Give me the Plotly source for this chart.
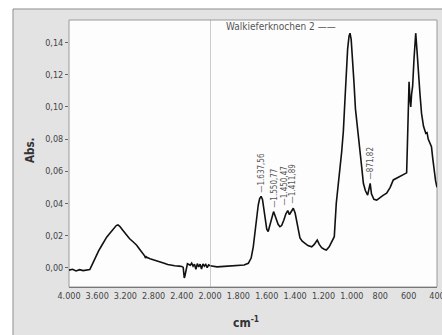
import plotly.graph_objects as go

# ---- data ----
wn_high = [4000, 3950, 3900, 3850, 3800, 3750, 3705, 3660, 3620, 3580, 3540, 3500, 3466, 3420,
           3372, 3330, 3305, 3280, 3240, 3182, 3140, 3088, 3040, 2993, 2950, 2925, 2915, 2905,
           2898, 2850, 2800, 2756, 2700, 2650, 2600, 2568, 2500, 2440, 2400, 2380, 2365, 2355,
           2340, 2320, 2300, 2280, 2260, 2240, 2220, 2200, 2180, 2160, 2140, 2120, 2100, 2080,
           2060, 2040, 2020, 2000]
abs_high = [-0.0015, -0.0010, -0.0020, -0.0012, -0.0018, -0.0014, -0.0012, 0.0030, 0.0070, 0.0105,
            0.0135, 0.0165, 0.0190, 0.0215, 0.0243, 0.0262, 0.0266, 0.0258, 0.0235, 0.0203,
            0.0180, 0.0160, 0.0140, 0.0112, 0.0090, 0.0072, 0.0060, 0.0068, 0.0065, 0.0056,
            0.0050, 0.0044, 0.0035, 0.0028, 0.0020, 0.0017, 0.0012, 0.0010, 0.0008, 0.0002,
            -0.0064, -0.0050, -0.0005, 0.0025, 0.0020, 0.0015, 0.0028, 0.0010, 0.0022, -0.0010,
            0.0025, 0.0005, 0.0022, -0.0008, 0.0024, 0.0010, 0.0020, 0.0000, 0.0018, 0.0012]

wn_low = [2000, 1950, 1900, 1850, 1800, 1760, 1730, 1710, 1695, 1680, 1671, 1660, 1650, 1640,
          1630, 1615, 1600, 1590, 1575, 1560, 1552, 1540, 1520, 1507, 1495, 1480, 1465, 1452,
          1440, 1430, 1413, 1400, 1385, 1366, 1350, 1331, 1310, 1283, 1265, 1250, 1244, 1230,
          1213, 1195, 1180, 1160, 1140, 1124, 1110, 1100, 1084, 1072, 1060, 1049, 1040, 1030,
          1020, 1013, 1005, 995, 985, 975, 965, 962, 955, 943, 930, 919, 905, 889, 880, 871,
          862, 845, 825, 800, 780, 755, 730, 708, 685, 661, 640, 625, 614, 609, 603, 597, 591,
          585, 579, 572, 562, 550, 541, 533, 520, 509, 495, 479, 470, 462, 450, 439, 430, 420,
          410, 400]
abs_low = [0.0012, 0.0005, 0.0008, 0.0011, 0.0014, 0.0017, 0.0027, 0.0060, 0.0130, 0.0240,
           0.0317, 0.0390, 0.0430, 0.0444, 0.0425, 0.0340, 0.0240, 0.0225, 0.0270, 0.0330,
           0.0349, 0.0320, 0.0270, 0.0255, 0.0262, 0.0295, 0.0335, 0.0355, 0.0330, 0.0345,
           0.0370, 0.0340, 0.0270, 0.0185, 0.0165, 0.0152, 0.0138, 0.0130, 0.0145, 0.0165,
           0.0172, 0.0145, 0.0125, 0.0115, 0.0110, 0.0130, 0.0165, 0.0193, 0.0400, 0.0500,
           0.0620, 0.0720, 0.0850, 0.1040, 0.1210, 0.1360, 0.1440, 0.1459, 0.1420, 0.1300,
           0.1150, 0.0990, 0.0910, 0.0899, 0.0860, 0.0735, 0.0620, 0.0525, 0.0480, 0.0452,
           0.0480, 0.0525, 0.0460, 0.0425, 0.0421, 0.0440, 0.0450, 0.0463, 0.0500, 0.0546,
           0.0556, 0.0566, 0.0575, 0.0585, 0.0590, 0.0753, 0.1000, 0.1157, 0.1050, 0.1000,
           0.1080, 0.1126, 0.1300, 0.1459, 0.1350, 0.1230, 0.1080, 0.0960, 0.0880, 0.0836,
           0.0840, 0.0800, 0.0780, 0.0753, 0.0680, 0.0600, 0.0540, 0.0500]

ticks_high = [4000, 3600, 3200, 2800, 2400, 2000]
ticks_low = [1800, 1600, 1400, 1200, 1000, 800, 600, 400]
y_ticks = [0.00, 0.02, 0.04, 0.06, 0.08, 0.10, 0.12, 0.14]

peak_labels = ["1.637,56", "1.550,77", "1.450,47", "1.411,89", "871,82"]
peak_wn = [1637.56, 1550.77, 1478, 1422, 871.82]
peak_abs = [0.0444, 0.0349, 0.0360, 0.0375, 0.0525]

series_name = "Walkieferknochen 2"

FONT = "Liberation Sans Narrow, DejaVu Sans Condensed, Arial Narrow, sans-serif"
split = 141 / 368

fig = go.Figure()
line = dict(color="#111111", width=1.6)
fig.add_trace(go.Scatter(x=wn_high, y=abs_high, mode="lines", line=line,
                         xaxis="x", yaxis="y", showlegend=False, name=series_name))
fig.add_trace(go.Scatter(x=wn_low, y=abs_low, mode="lines", line=line,
                         xaxis="x2", yaxis="y", showlegend=False, name=series_name))

tickfont = dict(family=FONT, size=9, color="#444444")
fig.update_layout(
    width=442, height=335,
    margin=dict(l=69, r=5, t=20, b=48, autoexpand=False),
    paper_bgcolor="white", plot_bgcolor="white",
    separators=",.",
    font=dict(family=FONT),
    xaxis=dict(domain=[0, split], range=[4000, 2000], tickvals=ticks_high,
               tickformat=",.0f", ticks="", showgrid=False, zeroline=False,
               showline=True, linecolor="#777777", linewidth=1, tickfont=tickfont,
               anchor="y", automargin=False, ticklabeloverflow="allow"),
    xaxis2=dict(domain=[split, 1], range=[2000, 400], tickvals=ticks_low,
                tickformat=",.0f", ticks="", showgrid=False, zeroline=False,
                showline=True, linecolor="#777777", linewidth=1, tickfont=tickfont,
                anchor="y", automargin=False, ticklabeloverflow="allow"),
    yaxis=dict(range=[-0.012, 0.1541], tickvals=y_ticks, tickformat=".2f",
               ticks="outside", ticklen=3, tickcolor="#666666", showgrid=False,
               zeroline=False, showline=False, tickfont=tickfont, automargin=False),
)

# panel and plot frame
fig.add_shape(type="rect", xref="paper", yref="paper", x0=-0.1522, x1=1.2, y0=-0.3, y1=1.0412,
              fillcolor="#e3e3e3", line=dict(color="#8f8f8f", width=1), layer="below")
fig.add_shape(type="rect", xref="paper", yref="paper", x0=0, x1=1, y0=0, y1=1,
              fillcolor="#fdfdfd", line=dict(color="#9a9a9a", width=1), layer="below")
fig.add_shape(type="line", xref="x2", yref="paper", x0=2000, x1=2000, y0=0, y1=1,
              line=dict(color="#9a9a9a", width=1))

# peak labels
for txt, xw, ya in zip(peak_labels, peak_wn, peak_abs):
    fig.add_annotation(x=xw, y=ya, xref="x2", yref="y", text="—" + txt, textangle=-90,
                       showarrow=False, xanchor="center", yanchor="bottom", yshift=2,
                       font=dict(family=FONT, size=8, color="#555555"))

# legend-like label
fig.add_annotation(x=0.731, y=0.9775, xref="paper", yref="paper", text=series_name + " ——",
                   showarrow=False, xanchor="right", yanchor="middle",
                   font=dict(family=FONT, size=10, color="#555555"))

# axis titles
fig.add_annotation(x=-0.106, y=0.513, xref="paper", yref="paper", text="<b>Abs.</b>",
                   textangle=-90, showarrow=False, xanchor="center", yanchor="middle",
                   font=dict(family=FONT, size=11.5, color="#333333"))
fig.add_annotation(x=0.481, y=-0.131, xref="paper", yref="paper", text="<b>cm<sup>-1</sup></b>",
                   showarrow=False, xanchor="center", yanchor="middle",
                   font=dict(family=FONT, size=12, color="#333333"))

fig.write_html("out.html", config={"displayModeBar": False},
               post_script="document.body.style.margin='0';document.body.style.overflow='hidden';")
